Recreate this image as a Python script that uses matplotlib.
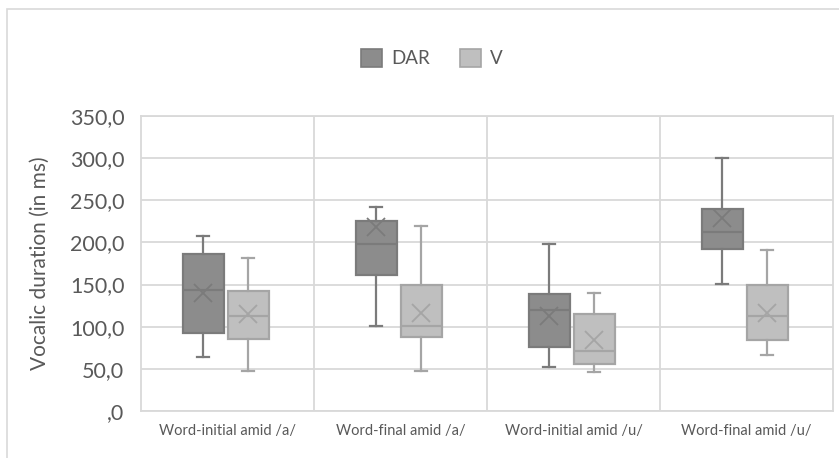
import matplotlib
matplotlib.use("Agg")
import matplotlib.pyplot as plt
from matplotlib.patches import Rectangle
from matplotlib.ticker import FuncFormatter, MultipleLocator

plt.rcParams['font.family'] = ['Lato', 'DejaVu Sans']

categories = ["Word-initial amid /a/", "Word-final amid /a/",
              "Word-initial amid /u/", "Word-final amid /u/"]
series = ["DAR", "V"]

# per category: whisker low, q1, median, q3, whisker high, mean
dar_low = [64, 101, 52, 151]
dar_q1 = [93, 161, 76, 192]
dar_med = [143, 198, 120, 212]
dar_q3 = [186, 225, 139, 240]
dar_high = [208, 242, 198, 300]
dar_mean = [140, 218, 113, 229]

v_low = [48, 47, 46, 66]
v_q1 = [86, 88, 56, 84]
v_med = [113, 101, 71, 113]
v_q3 = [142, 150, 115, 149]
v_high = [181, 219, 140, 191]
v_mean = [115, 116, 84, 116]

TEXT = "#595959"
GRID = "#d9d9d9"
fills = {"DAR": "#8c8c8c", "V": "#bfbfbf"}
edges = {"DAR": "#7b7b7b", "V": "#a5a5a5"}


def stats(low, q1, med, q3, high, mean):
    return [dict(whislo=a, q1=b, med=c, q3=d, whishi=e, mean=f, fliers=[])
            for a, b, c, d, e, f in zip(low, q1, med, q3, high, mean)]


data = {
    "DAR": stats(dar_low, dar_q1, dar_med, dar_q3, dar_high, dar_mean),
    "V": stats(v_low, v_q1, v_med, v_q3, v_high, v_mean),
}
offsets = {"DAR": -0.14, "V": 0.12}

fig = plt.figure(figsize=(8.39, 4.58), dpi=100)
ax = fig.add_axes([141 / 839, 1 - 411 / 458, (833 - 141) / 839, (411 - 116) / 458])

for s in series:
    pos = [i + offsets[s] for i in range(len(categories))]
    ec = edges[s]
    ax.bxp(data[s], positions=pos, widths=0.235, showmeans=True, showfliers=False,
           patch_artist=True, capwidths=0.07,
           boxprops=dict(facecolor=fills[s], edgecolor=ec, linewidth=1.6),
           medianprops=dict(color=ec, linewidth=1.6),
           whiskerprops=dict(color=ec, linewidth=1.6),
           capprops=dict(color=ec, linewidth=1.6),
           meanprops=dict(marker='x', markersize=13, markeredgecolor=ec,
                          markeredgewidth=1.3),
           zorder=3)

ax.set_xlim(-0.5, len(categories) - 0.5)
ax.set_ylim(0, 350)
ax.yaxis.set_major_locator(MultipleLocator(50))


def fmt(v, _):
    s = f"{v:.1f}".replace('.', ',')
    return s[1:] if s.startswith("0") else s


ax.yaxis.set_major_formatter(FuncFormatter(fmt))
ax.set_xticks(range(len(categories)))
ax.set_xticklabels(categories, fontsize=10.5, color=TEXT)
ax.tick_params(axis='y', labelsize=15.5, labelcolor=TEXT, length=0, pad=12)
ax.tick_params(axis='x', length=0, pad=9)
ax.grid(axis='y', color=GRID, linewidth=1.3, zorder=0)
for xb in [0.5, 1.5, 2.5]:
    ax.axvline(xb, color=GRID, linewidth=1.3, zorder=0)
for sp in ax.spines.values():
    sp.set_color(GRID)
    sp.set_linewidth(1.3)

ax.set_ylabel("Vocalic duration (in ms)", fontsize=15, color=TEXT, labelpad=14)

handles = [Rectangle((0, 0), 1, 1, facecolor=fills[s], edgecolor=edges[s], linewidth=1.2)
           for s in series]
fig.legend(handles, series, loc='center', bbox_to_anchor=(432 / 839, 1 - 58 / 458),
           ncol=2, frameon=False, fontsize=13.5, labelcolor=TEXT,
           handlelength=1.1, handleheight=1.1, columnspacing=1.6, handletextpad=0.5)

# chart area border (extends past right/bottom edges)
fig.patches.append(Rectangle((7 / 839, -0.1), 1.2, 1 - 9 / 458 + 0.1,
                             transform=fig.transFigure, fill=False,
                             edgecolor=GRID, linewidth=1.2))

fig.savefig("out.png", dpi=100)
